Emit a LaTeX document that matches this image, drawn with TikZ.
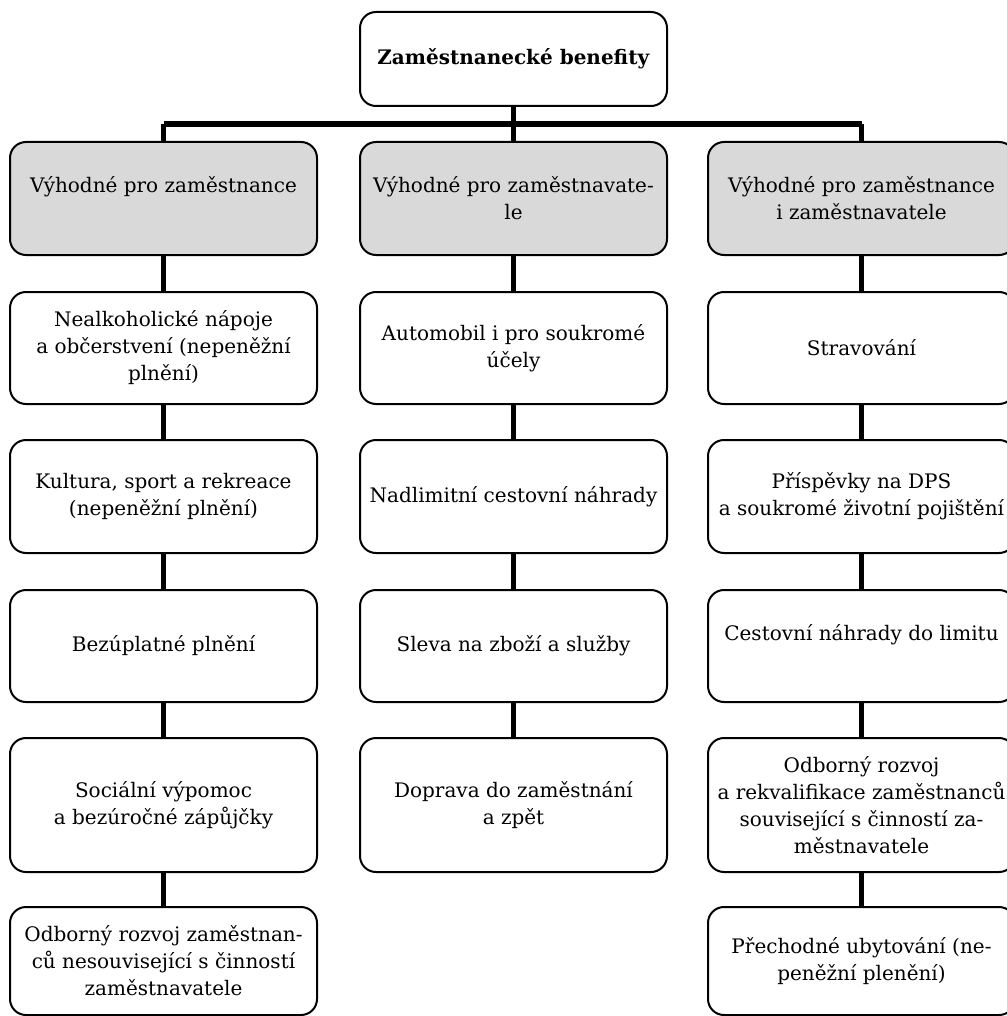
\documentclass[tikz,border=0pt]{standalone}
\usepackage{fontspec}
\setmainfont{DejaVu Serif}
\usepackage{xcolor}
\definecolor{head-gray}{HTML}{D9D9D9}

\begin{document}
\begin{tikzpicture}[x=0.5pt, y=-0.5pt,
        every node/.style={font=\fontsize{10}{13.5}\selectfont},
        benefit/.style={draw=black, line width=1pt, fill=white,
            rounded corners=8pt, minimum width=153.5pt,
            align=center, inner xsep=1.5pt, inner ysep=0pt},
        group/.style={benefit, fill=head-gray, minimum height=56.5pt},
        link/.style={line width=2.8pt}]
      \useasboundingbox (0,0) rectangle (1006,1016);
      % root
      \node[benefit, minimum height=47pt] (root) at (513.5,59)
            {\textbf{Zaměstnanecké benefity}};
      % groups
      \node[group] (A0) at (163.5,198.5) {Výhodné pro zaměstnance\\~};
      \node[group] (B0) at (513.5,198.5) {Výhodné pro zaměstnavate-\\le};
      \node[group] (C0) at (861.5,198.5)
            {Výhodné pro zaměstnance\\i zaměstnavatele};
      % employee column
      \node[benefit, minimum height=56pt] (A1) at (163.5,348)
            {Nealkoholické nápoje\\a občerstvení (nepeněžní\\plnění)};
      \node[benefit, minimum height=56.5pt] (A2) at (163.5,496.5)
            {Kultura, sport a rekreace\\(nepeněžní plnění)};
      \node[benefit, minimum height=56pt] (A3) at (163.5,646)
            {Bezúplatné plnění};
      \node[benefit, minimum height=67pt] (A4) at (163.5,805)
            {Sociální výpomoc\\a bezúročné zápůjčky};
      \node[benefit, minimum height=54pt] (A5) at (163.5,961)
            {Odborný rozvoj zaměstnan-\\ců nesouvisející s činností\\zaměstnavatele};
      % employer column
      \node[benefit, minimum height=56pt] (B1) at (513.5,348)
            {Automobil i pro soukromé\\účely};
      \node[benefit, minimum height=56.5pt] (B2) at (513.5,496.5)
            {Nadlimitní cestovní náhrady};
      \node[benefit, minimum height=56pt] (B3) at (513.5,646)
            {Sleva na zboží a služby};
      \node[benefit, minimum height=67pt] (B4) at (513.5,805)
            {Doprava do zaměstnání\\a zpět};
      % both column
      \node[benefit, minimum height=56pt] (C1) at (861.5,348)
            {Stravování};
      \node[benefit, minimum height=56.5pt] (C2) at (861.5,496.5)
            {Příspěvky na DPS\\a soukromé životní pojištění};
      \node[benefit, minimum height=56pt] (C3) at (861.5,646)
            {Cestovní náhrady do limitu\\~};
      \node[benefit, minimum height=67pt] (C4) at (861.5,805)
            {Odborný rozvoj\\a rekvalifikace zaměstnanců\\související s činností za-\\městnavatele};
      \node[benefit, minimum height=54pt] (C5) at (861.5,961)
            {Přechodné ubytování (ne-\\peněžní plenění)};
      % links
      \coordinate (barL) at (163.5,124);
      \coordinate (barR) at (861.5,124);
      \draw[link] (root.south) -- (root.south |- barL);
      \draw[link] (barL) -- (barR);
      \draw[link] (barL) -- (A0.north);
      \draw[link] (B0.north) -- (B0.north |- barL);
      \draw[link] (barR) -- (C0.north);
      \draw[link] (A0) -- (A1) (A1) -- (A2) (A2) -- (A3) (A3) -- (A4) (A4) -- (A5);
      \draw[link] (B0) -- (B1) (B1) -- (B2) (B2) -- (B3) (B3) -- (B4);
      \draw[link] (C0) -- (C1) (C1) -- (C2) (C2) -- (C3) (C3) -- (C4) (C4) -- (C5);
    \end{tikzpicture}
\end{document}
